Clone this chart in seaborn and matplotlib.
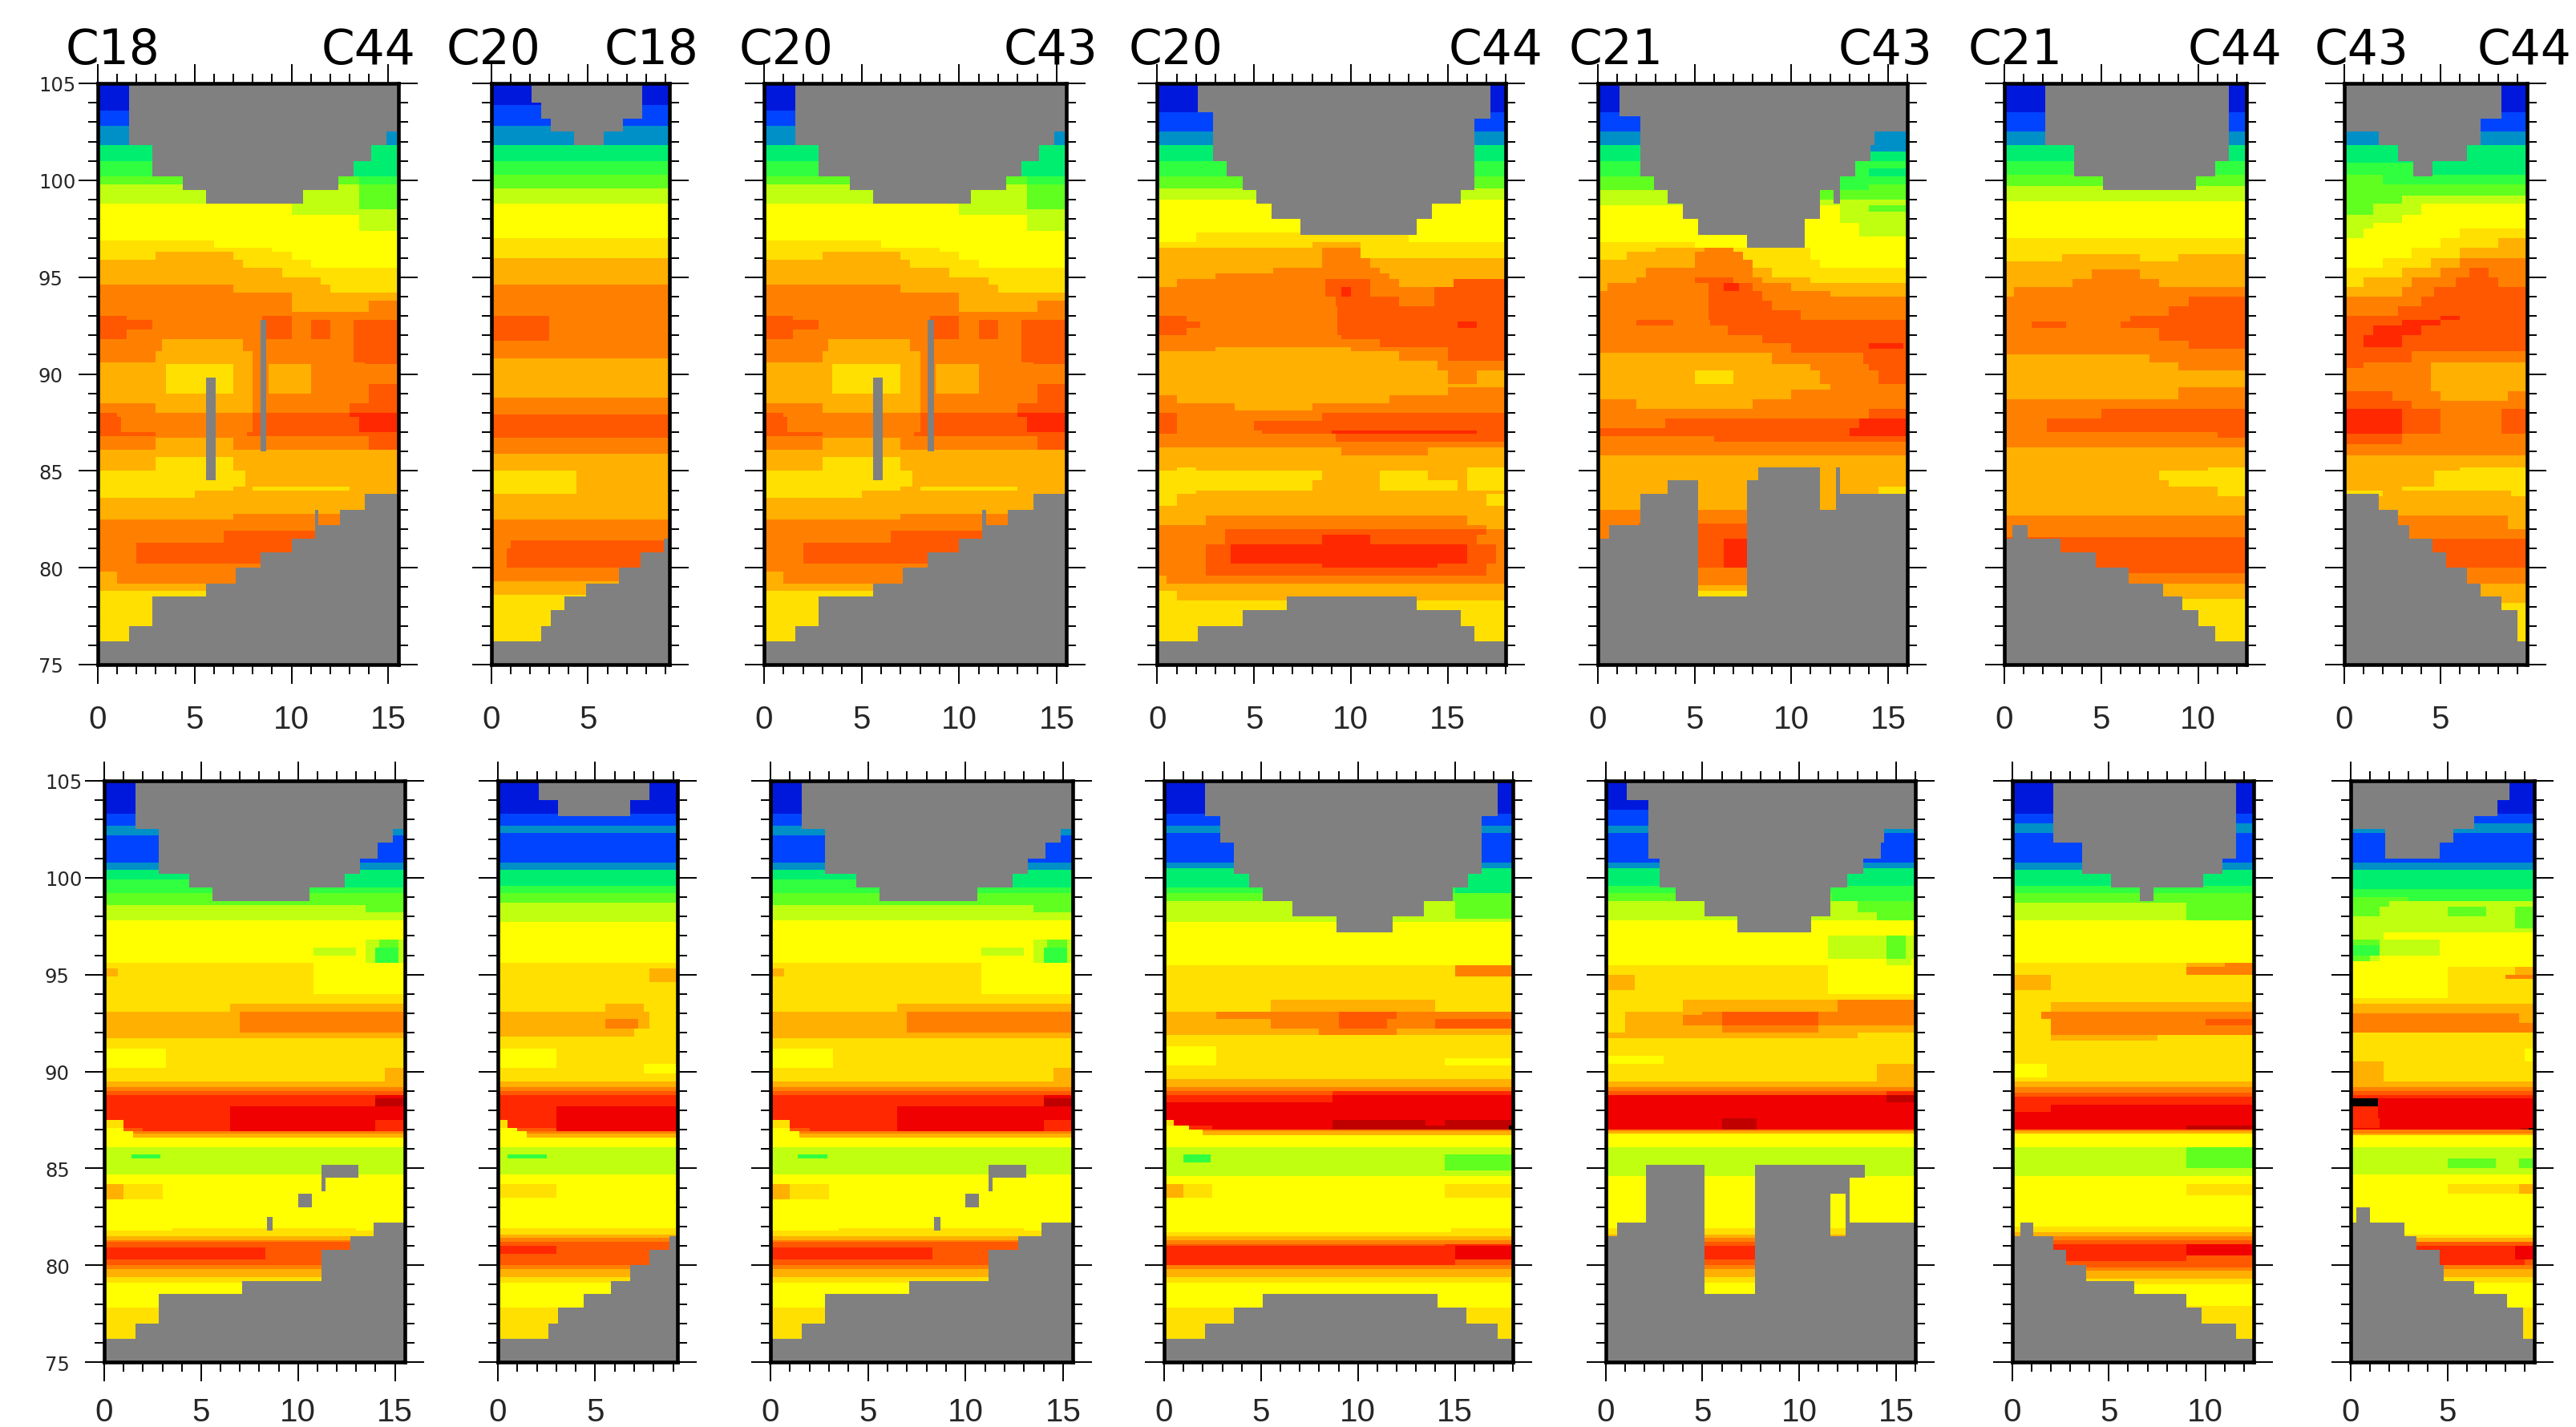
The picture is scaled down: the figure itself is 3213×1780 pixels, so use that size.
import numpy as np
import matplotlib
matplotlib.use("Agg")
import matplotlib.pyplot as plt
from matplotlib.colors import ListedColormap
import seaborn as sns

LEVELS = "abcdefghijklmnop"
COLORS = ["#0018dc", "#0044ff", "#0090c8", "#00ee70", "#30ff40", "#60ff20", "#c0ff10", "#ffff00",
          "#ffe000", "#ffb000", "#ff8000", "#ff5800", "#ff2800", "#f00000", "#c00000", "#000000"]
GRAY = "#808080"

WIDTHS = [15.53, 9.23, 15.53, 18.0, 16.0, 12.5, 9.46]
TITLES = [("C18", "C44"), ("C20", "C18"), ("C20", "C43"), ("C20", "C44"), ("C21", "C43"), ("C21", "C44"), ("C43", "C44")]

# ---- top row: level bands, "y-top level[x-end] ..."
T1_BANDS = ["105 a", "103.6 b", "102.75 c", "101.75 d", "101 e13.2 d", "100.25 f13.5 e", "99.75 g13.5 f",
    "98.75 h10 g13.5 f", "98.5 h10 g", "98.25 h13.5 g", "97.4 h", "96.9 i6 h", "96.5 i9 h", "96.3 i3 j7 i10 h",
    "95.9 j7.5 i11 h", "95.5 j9.5 i", "95 j11.5 i", "94.6 k7 j12 i", "94.25 k10 j", "93.75 k10 j14 k", "93.25 k",
    "93 l1.5 k8.5 l10 k", "92.75 l2.8 k8.5 l10 k11 l12 k13.2 l", "92.3 l1.5 k8.5 l10 k11 l12 k13.2 l",
    "91.75 k3.3 j7.5 k13.2 l", "91.25 k3 j8 k13.2 l", "90.6 j8 k13.8 l", "90.5 j3.5 i7 j8 k8.8 j11 k",
    "89.5 j3.5 i7 j8 k8.8 j11 k14 l", "89 j8 k14 l", "88.5 k3 j8 k13 l", "88 l1 k8 l13 m", "87.75 l1.2 k8 l13.5 m",
    "87 l3 k7.7 l", "86.8 k14 l", "86.7 k3 j7 k14 l", "86.1 j", "85.7 j3 i7 j", "85 i7.6 j", "84.25 i7 j8 i13 j",
    "84 i5 j", "83.6 j", "82.75 j7 k", "82.5 k", "81.9 k6.5 l", "81.3 k2 l", "80.75 k2 l", "80.25 k8 k", "79.75 j1 k",
    "79.25 j", "78.75 i"]
T1_TOP = [(1.6, 105), (2.85, 101.75), (4.4, 100.25), (5.6, 99.5), (10.6, 98.75), (12.4, 99.5), (13.15, 100.25),
          (14.1, 101), (14.9, 101.75), (15.53, 102.5)]
T1_BOT = [(1.6, 76.25), (2.85, 77), (5.6, 78.5), (7.1, 79.25), (8.4, 80), (10, 80.75), (11.2, 81.5), (12.5, 82.25),
          (13.8, 83), (15.53, 83.75)]
T1_HOLES = [(5.63, 6.13, 84.55, 89.75), (8.4, 8.68, 86, 92.8), (11.2, 11.42, 82.25, 83)]

T2_BANDS = ["105 a", "103.9 b", "102.75 c", "101.75 d", "101 e", "100.3 f", "99.6 g", "98.8 h", "97 i", "96 j", "94.6 k",
    "93 l3 k", "91.7 k", "90.8 j", "88.8 k", "87.9 l", "86.7 k", "85.9 j", "85 i4.4 j", "83.8 j", "82.5 k", "81.4 k1 l",
    "81 k0.8 l", "80 k", "79.3 j", "78.6 i"]
T2_TOP = [(2.1, 105), (2.6, 104), (3.1, 103.25), (4.3, 102.5), (5.8, 101.75), (6.8, 102.5), (7.85, 103.25), (9.23, 105)]
T2_BOT = [(2.6, 76.25), (3.1, 77), (3.85, 77.75), (4.9, 78.5), (6.6, 79.25), (7.7, 80), (8.9, 80.75), (9.23, 81.5)]
T2_HOLES = []

T4_BANDS = ["105 a", "103.5 b", "102.5 c", "101.75 d", "101 e", "100.25 f", "99.6 g", "99 h", "97.3 h2 i13 h", "96.8 i8 j10.5 i",
    "96.5 j8.5 k10.5 i", "96 j8.5 k11 j", "95.5 j6 k11.5 j", "95.2 j3 k12 j", "94.9 j1 k8.7 l11 k12.5 j15.3 l",
    "94.5 k8.7 l9.5 m10 l11 k14.3 l", "94 k9.2 l12.5 k14.3 l", "93.5 k9.3 l", "93 l1.5 k9.3 l", "92.7 l2.2 k9.3 l15.5 m16.5 l",
    "92.4 l1.5 k9.3 l", "92 k9.5 l", "91.8 k11.5 l", "91.4 k3 j10 k15 l", "91.2 j12.5 k15 l", "90.7 j14.5 k",
    "90.2 j15 k16.5 j", "89.5 j", "89.3 j15 k", "88.9 k1 j12 k", "88.5 k4 j8 k", "88.1 k", "88 l1 k8.5 l", "87.6 l1 k5 l",
    "87.1 l1 k5.4 l9 m16.5 l", "86.9 k9.2 l", "86.5 k", "86.2 j9.5 k14 j", "85.8 j", "85.2 j1 i2 j16 i",
    "85 i8.5 j11.5 i14 j16 i", "84.5 i8 j11.5 i15.5 j16 i", "84 i2 j", "83.75 i1 j17 i", "83.25 j", "82.7 j2.5 k16 j",
    "82.2 k17 j", "82 k3.5 l17 k", "81.7 k3.5 l8.5 m11 l16.5 k", "81.25 k2.5 l3.8 m16 l17.5 k", "80.25 k2.5 l8.5 m14.5 l17 k",
    "80 k2.5 l17 k", "79.6 j0.5 k", "79.25 j", "78.75 i1 j17 j", "78.3 i"]
T4_TOP = [(2.1, 105), (2.9, 103.5), (3.6, 101), (4.4, 100.25), (5.1, 99.5), (5.9, 98.75), (7.4, 98), (13.4, 97.25), (14.2, 98),
          (15.7, 98.75), (16.4, 99.5), (17.2, 103.25), (18, 105)]
T4_BOT = [(2.1, 76.25), (4.4, 77), (6.7, 77.75), (13.4, 78.5), (15.7, 77.75), (16.4, 77), (18, 76.25)]
T4_HOLES = []

T5_BANDS = ["105 a", "103.5 b", "102.5 c", "101.75 d14 c", "101.5 d", "101 e", "100.6 e14 d", "100.25 f12 e", "99.8 f12 e14 f",
    "99.5 g11 f", "99 g", "98.7 h12.5 g14 f", "98.4 h12.5 g", "97.75 h13.5 g", "97.1 h", "96.8 i5 h", "96.55 i3 j5.5 k7 i11 h",
    "96.3 i1.5 j5 k7.5 i11 h", "95.9 j5 k8 i11.5 h", "95.5 j2.5 k8 j9 i", "95 j2 k5 l7 k8.5 j11 i", "94.7 j0.5 k5.7 l6.5 m7.3 l8 k10 j",
    "94.3 k5.7 l8.5 k12 j", "94 k5.7 l8.5 k", "93.8 k5.7 l9 k", "93.3 k5.7 l10.5 k", "92.8 k2 l3.9 k5.8 l", "92.5 k6.7 l", "92 k8.5 l",
    "91.6 k10 l14 m15.8 l", "91.3 k10 l", "91.1 j9 k13.7 l", "90.5 j11 k14 l", "90.2 j5 i7 j11.5 k14.5 l", "89.5 j12 k", "89.2 j10 k",
    "88.7 k2 j8 k", "88.2 k14 l", "87.7 k3.5 l13.5 m", "87.2 l13 m", "86.8 k6 l13 l", "86.5 k", "85.8 j", "84.2 j14.5 i", "83.75 j",
    "83 k", "82.3 k2.1 l", "81.5 l6.5 m", "80 k", "79.1 j", "78.8 i"]
T5_TOP = [(1.1, 105), (2.15, 103.3), (2.9, 100.25), (3.6, 99.5), (4.4, 98.75), (5.2, 98), (7.7, 97.25), (10.7, 96.5), (11.5, 98),
          (12.25, 99.5), (12.5, 98.75), (13.3, 100.25), (14.1, 101), (14.3, 101.75), (16, 102.5)]
T5_BOT = [(0.6, 81.5), (2.15, 82.25), (3.6, 83.75), (5.15, 84.5), (7.7, 78.5), (8.3, 84.5), (11.5, 85.25), (12.3, 83), (12.5, 85.25),
          (16, 83.75)]
T5_HOLES = []

T6_BANDS = ["105 a", "103.5 b", "102.5 c", "101.75 d", "101 e", "100.3 f", "99.7 g", "98.9 h", "97 i", "96.2 i3 j7 i9 j", "95.8 j",
    "95.4 j4.5 k7 j", "94.9 j3.5 k8 j", "94.5 j0.5 k", "94 k9.5 l", "93.5 k8.5 l", "93 k6.5 l", "92.7 k1.4 l3.2 k6 l", "92.4 k8 l",
    "91.7 k9.5 l", "91.3 k", "91 j7.5 k", "90.6 j9 k", "90.2 j", "89.3 j9 k", "88.7 k", "88.2 k5 l", "87.7 k2.2 l", "87 k11 l",
    "86.7 k", "86.2 j", "85.2 j10.5 i", "85 j8 i", "84.5 j8.5 i", "84.2 j11 i", "83.7 j", "82.7 k", "81.6 l", "79.7 k", "79.25 j",
    "78.4 j9 i", "78.2 i"]
T6_TOP = [(2.1, 105), (3.6, 101.75), (5.1, 100.25), (9.9, 99.5), (10.9, 100.25), (11.6, 101), (12.5, 105)]
T6_BOT = [(0.4, 81.5), (1.15, 82.25), (2.9, 81.5), (4.7, 80.75), (6.4, 80), (8.2, 79.25), (9.2, 78.5), (9.95, 77.75), (10.9, 77),
          (12.5, 76.25)]
T6_HOLES = []

T7_BANDS = ["105 a", "103.5 b", "102.5 c", "101.75 d", "100.9 e4 d", "100.3 f2 e", "99.75 f", "99.25 f3 g", "98.75 f1.5 g4 h",
    "98.25 g3 h", "97.75 g1.5 h", "97.5 g1 h6 i", "97 h5 i8 j", "96.5 h3.5 i6 j", "96 h2 i4.5 j6 k", "95.5 i3 j5 k6.5 l7.5 k",
    "95 i1 j3.5 k5.8 l8 k", "94.5 j3 k4.7 l", "94 k4 l", "93.5 k2.8 l", "93 l5 m6 l", "92.75 l3 m5 l", "92.5 l1.5 m4 l", "92 l1 m3 l",
    "91.4 l", "91.2 l3.5 k", "90.6 l1 k4.5 j", "90.3 k4.5 j", "89.1 l2.5 k5 j8.5 k", "88.6 l3.5 k", "88.2 m3 l5 k8.2 l",
    "86.9 l3 k", "86.4 k", "85.8 j", "85.2 j6 i", "85 j4.7 i", "84.25 j3 i", "84 i2 j8.7 i", "83.7 j", "82.7 k8.5 j", "82 k", "81.5 l",
    "80 k", "79.25 j", "78.25 i"]
T7_TOP = [(1.85, 102.5), (2.85, 101.75), (3.65, 101), (4.6, 100.25), (6.4, 101), (7.1, 101.75), (8.2, 103.25), (9.46, 105)]
T7_BOT = [(1.85, 83.75), (2.85, 83), (3.4, 82.25), (4.6, 81.5), (5.3, 80.75), (6.4, 80), (7.1, 79.25), (8.2, 78.5), (8.95, 77.75),
          (9.46, 76.25)]
T7_HOLES = []

# ---- bottom row
B1_BANDS = ["105 a", "103.3 b", "102.7 c", "102.25 b", "100.75 c", "100.4 d", "99.9 e12 d", "99.5 e", "99.2 f", "98.6 g13.5 f", "98.2 g",
    "97.75 h", "96.8 h13.5 g14.2 f15.2 g", "96.4 h10.8 g13 h13.5 g14 e15.2 g", "96 h13.5 g14 e15.2 g", "95.6 i10.8 h", "95.3 j0.7 i10.8 h",
    "94.9 i10.8 h", "94 i", "93.5 i6.5 j", "93.1 j7 k", "92 j", "91.7 i", "91.25 h3.2 i", "90.25 i14.5 j", "89.5 j", "89.2 k", "89 l",
    "88.8 m14 n", "88.6 m14 o", "88.2 m6.5 n", "87.5 i1 m6.5 n14 m", "87.1 h1 l2 m6.5 n14 m", "86.9 h1.5 k", "86.8 h1.5 j", "86.6 h", "86.1 g",
    "85.7 g1.4 e2.9 g", "85.5 g", "84.7 h", "84.2 j1 i3 h", "83.4 h", "81.9 h3.5 i13 h", "81.75 i", "81.5 j", "81.35 k", "81.2 l",
    "80.9 m8.3 l", "80.3 l", "80.05 k", "79.85 j", "79.4 i", "79.1 h", "77.8 i"]
B1_TOP = [(1.65, 105), (2.85, 102.5), (4.4, 100.25), (5.6, 99.5), (10.6, 98.75), (12.4, 99.5), (13.15, 100.25), (14.1, 101), (14.9, 101.75),
          (15.53, 102.5)]
B1_BOT = [(1.65, 76.25), (2.85, 77), (7.1, 78.5), (11.2, 79.25), (12.7, 80.75), (13.9, 81.5), (15.53, 82.25)]
B1_HOLES = [(11.2, 13.1, 84.5, 85.25), (11.2, 11.45, 83.75, 84.5), (10, 10.7, 83, 83.7), (8.45, 8.7, 81.75, 82.5)]

B2_BANDS = ["105 a", "103.3 b", "102.7 c", "102.3 b", "100.8 c", "100.4 d", "99.6 e", "99.2 f", "98.7 g", "97.7 h", "95.6 i", "95.3 i7.8 j",
    "94.6 i", "93.5 i5.5 j7.5 i", "93.1 j7.8 i", "92.7 j5.5 k7.2 j7.8 i", "92.2 j7 i", "91.8 i", "91.25 h3 i", "90.4 h3 i7.5 h", "90.25 i7.5 h",
    "89.9 i", "89.5 j", "89.2 k", "89 l", "88.8 m", "88.2 m3 n", "87.55 i0.5 m3 n", "87.1 h1 l3 n", "86.9 h1.5 k", "86.8 h1.5 j", "86.6 h", "86.1 g",
    "85.7 g0.5 e2.5 g", "85.5 g", "84.7 h", "84.2 i3 h", "83.5 h", "81.9 i", "81.6 j", "81.4 k", "81.2 l", "81 m3 l", "80.6 l", "80 k", "79.85 j",
    "79.4 i", "79.1 h", "77.8 i"]
B2_TOP = [(2.1, 105), (3.1, 104), (6.85, 103.25), (7.85, 104), (9.23, 105)]
B2_BOT = [(2.6, 76.25), (3.1, 77), (4.35, 77.75), (5.85, 78.5), (6.85, 79.25), (7.85, 80), (8.85, 80.75), (9.23, 81.5)]
B2_HOLES = []

B4_BANDS = ["105 a", "103.3 b", "102.7 c", "102.3 b", "100.8 c", "100.45 d", "99.5 e15 d", "99.2 f", "98.75 g15 f", "97.9 g", "97.7 h", "95.5 i15 k",
    "94.9 i", "93.7 i5.5 j14 i", "93.1 j2.7 k9 l12 k", "92.7 j5.5 k9 l11.5 k14 l", "92.2 j8 k12 j", "91.9 i", "91.3 h2.7 i", "90.7 h2.7 i14.5 h",
    "90.3 i", "89.6 j", "89.25 k", "89 l8.7 m", "88.8 m8.7 n", "88.4 n", "87.55 i0.5 n8.7 o13.5 n14.5 o", "87.25 h1.3 m2.5 n8.7 o17.8 p", "87 h2 k",
    "86.9 h2 j", "86.7 h", "86.1 g", "85.7 g1 e2.4 g14.5 f", "85.3 g14.5 f", "84.9 g", "84.6 h", "84.2 j1 i2.5 h14.5 i", "83.5 h", "81.9 h14.8 i",
    "81.7 i", "81.5 j", "81.3 k", "81.1 l14.5 m", "81 m15 n", "80.3 m15 l", "80 k", "79.8 j", "79.4 i", "79.1 h", "77.8 i"]
B4_TOP = [(2.1, 105), (2.9, 103.25), (3.6, 101.75), (4.4, 100.25), (5.1, 99.5), (6.6, 98.75), (8.9, 98), (11.85, 97.25), (13.4, 98), (14.9, 98.75),
          (15.7, 99.5), (16.4, 100.25), (17.2, 103.25), (18, 105)]
B4_BOT = [(2.1, 76.25), (3.6, 77), (5.1, 77.75), (14.1, 78.5), (15.6, 77.75), (17.2, 77), (18, 76.25)]
B4_HOLES = []

B5_BANDS = ["105 a", "103.5 b", "102.7 c", "102.3 b", "100.8 c", "100.5 d", "99.6 e", "99.2 f11.7 e", "98.75 g13 f", "98.2 g14 f", "97.75 h",
    "97 h11.5 g14.5 f15.5 g", "95.8 h14.5 g15.8 h", "95.5 i11.5 h", "95 j1.5 i11.5 h", "94.2 i11.5 h", "94 i", "93.7 i4 j12 k", "93.1 i1 j5 k6 l11 k",
    "92.9 i1 j4 k6 l11 k", "92.4 i1 j6 k11 j", "92 j13 i", "91.7 i", "90.8 h3 i", "90.4 i14 j", "89.5 j", "89.2 k", "89 l14.5 m", "88.8 n14.5 o",
    "88.4 n", "87.6 n6 o7.8 n", "87 k", "86.9 j", "86.8 h", "86.1 g", "84.6 h", "81.9 i", "81.6 j", "81.4 k", "81.2 l", "81 m", "80.3 l", "80 k",
    "79.8 j", "79.4 i", "79.1 h"]
B5_TOP = [(1.1, 105), (2.15, 104), (2.85, 101), (3.6, 99.5), (5.1, 98.75), (6.85, 98), (10.6, 97.25), (11.6, 98), (12.5, 99.5), (13.3, 100.25),
          (14.2, 101), (14.4, 101.75), (16, 102.5)]
B5_BOT = [(0.6, 81.5), (2.1, 82.25), (5.1, 85.25), (7.7, 78.5), (11.6, 85.25), (12.4, 81.5), (12.6, 85.25), (16, 82.25)]
B5_HOLES = [(11.6, 12.4, 83.7, 85.25), (12.6, 13.4, 84.5, 85.25)]

B6_BANDS = ["105 a", "103.35 b", "102.8 c", "102.3 b", "100.8 c", "100.4 d", "99.6 e", "99.2 f", "98.7 g9 f", "97.75 h", "95.6 i9 j11 k", "95.4 i9 k",
    "95 j2 i", "94.2 i", "93.6 i2 j", "93.1 i1.5 k", "92.7 i2 k10 l", "92.4 i2 k", "91.9 i2 j7.5 i", "91.6 i", "90.4 h1.8 i", "89.7 i", "89.5 j", "89.2 k",
    "88.9 l", "88.7 m", "88.3 m2 n", "87.9 n", "87.2 n9 o", "87 k", "86.9 j", "86.8 h", "86.1 g9 f", "85 g", "84.6 h", "84.2 h9 i", "83.6 h", "82 i",
    "81.7 j", "81.5 k", "81.3 l", "81.1 m9 n", "80.5 m9 l", "80.2 l", "79.9 k", "79.7 j", "79.3 i", "79 h", "77.9 i"]
B6_TOP = [(2.1, 105), (3.6, 101.75), (5.1, 100.25), (6.6, 99.5), (7.3, 98.75), (9.9, 99.5), (10.9, 100.25), (11.6, 101), (12.5, 105)]
B6_BOT = [(0.4, 81.5), (1.1, 82.25), (2.1, 81.5), (2.85, 80.75), (3.8, 80), (6.3, 79.25), (9.05, 78.5), (9.8, 77.75), (11.6, 77), (12.5, 76.25)]
B6_HOLES = []

B7_BANDS = ["105 a", "103.35 b", "102.8 c", "102.3 b", "100.8 c", "100.4 d", "99.4 e", "99 f3 e", "98.75 f2 g", "98.5 f1.5 g5 f7 g8.5 f", "98 g8.5 f", "97.4 g",
    "97.2 g1.7 h", "96.8 f1.5 g4.6 h", "96.5 e1.5 g4.6 h", "96 f1 g1.5 h", "95.7 h", "95.4 h5 i8.5 j", "95 h5 i8 k", "94.8 h5 i", "93.8 i", "93.5 j", "93 k8.7 j",
    "92.5 k", "92 i", "91.2 i9 h", "90.5 j1.7 i", "89.5 j", "89.2 k", "89 l", "88.8 m", "88.6 p1.4 n", "88.2 m1.4 n", "87.6 m1.5 n", "87.1 n8.8 o9.2 p",
    "86.95 k", "86.85 j", "86.7 h", "86.1 g", "85.5 g5 f7.5 g8.7 f", "85 g", "84.65 h", "84.2 h5 i8.7 j", "83.7 h", "81.6 i", "81.4 j", "81.2 l", "81 m8.5 n",
    "80.3 m9 l", "80 k", "79.85 j", "79.4 i", "79.1 h", "77.8 i"]
B7_TOP = [(1.85, 102.5), (4.6, 101), (5.3, 101.75), (6.4, 102.5), (7.6, 103.25), (8.2, 104), (9.46, 105)]
B7_BOT = [(0.3, 82.25), (1.05, 83), (2.85, 82.25), (3.4, 81.5), (4.6, 80.75), (4.85, 80), (6.35, 79.25), (8.1, 78.5), (8.9, 77.75), (9.46, 76.25)]
B7_HOLES = []

TOP_ROW = [(T1_BANDS, T1_TOP, T1_BOT, T1_HOLES), (T2_BANDS, T2_TOP, T2_BOT, T2_HOLES), (T1_BANDS, T1_TOP, T1_BOT, T1_HOLES),
           (T4_BANDS, T4_TOP, T4_BOT, T4_HOLES), (T5_BANDS, T5_TOP, T5_BOT, T5_HOLES), (T6_BANDS, T6_TOP, T6_BOT, T6_HOLES),
           (T7_BANDS, T7_TOP, T7_BOT, T7_HOLES)]
BOT_ROW = [(B1_BANDS, B1_TOP, B1_BOT, B1_HOLES), (B2_BANDS, B2_TOP, B2_BOT, B2_HOLES), (B1_BANDS, B1_TOP, B1_BOT, B1_HOLES),
           (B4_BANDS, B4_TOP, B4_BOT, B4_HOLES), (B5_BANDS, B5_TOP, B5_BOT, B5_HOLES), (B6_BANDS, B6_TOP, B6_BOT, B6_HOLES),
           (B7_BANDS, B7_TOP, B7_BOT, B7_HOLES)]

# layout (pixels)
W, H = 3213, 1781
AX_LEFT_T = [122, 612.5, 953, 1443.4, 1993, 2500, 2923.6]
AX_RIGHT_T = [496.5, 835, 1330, 1878, 2379, 2802, 3151.7]
AX_LEFT_B = [130, 621, 961, 1452, 2002.7, 2510, 2932]
AX_RIGHT_B = [504.6, 844.5, 1338, 1887, 2389, 2811, 3161]
TITLE_L = [82, 557, 922, 1408, 1957, 2455, 2887]
TITLE_R = [518, 871, 1369, 1924, 2410, 2846, 3207]
RES = 10  # cells per data unit


def build(width, bands, top, bot, holes):
    cols = int(round(width * RES))
    rows = 30 * RES
    grid = np.full((rows, cols), np.nan)
    for n, line in enumerate(bands):
        parts = line.split()
        y0 = float(parts[0])
        y1 = float(bands[n + 1].split()[0]) if n + 1 < len(bands) else 75.0
        i0, i1 = int(round((105 - y0) * RES)), int(round((105 - y1) * RES))
        start = 0
        for tok in parts[1:]:
            lev = LEVELS.index(tok[0])
            end = int(round(float(tok[1:]) * RES)) if len(tok) > 1 else cols
            grid[i0:i1, start:end] = lev
            start = max(start, end)
    x0 = 0
    for xe, y in top:
        xi = int(round(xe * RES))
        grid[: int(round((105 - y) * RES)), x0:xi] = np.nan
        x0 = xi
    x0 = 0
    for xe, y in bot:
        xi = int(round(xe * RES))
        grid[int(round((105 - y) * RES)):, x0:xi] = np.nan
        x0 = xi
    for xa, xb, ya, yb in holes:
        grid[int(round((105 - yb) * RES)):int(round((105 - ya) * RES)), int(round(xa * RES)):int(round(xb * RES))] = np.nan
    return grid


sns.set_style("white")
plt.rcParams["font.family"] = ["DejaVu Sans"]
plt.rcParams["axes.facecolor"] = GRAY
fig = plt.figure(figsize=(W / 100, H / 100), dpi=100, facecolor="white")
cmap = ListedColormap(COLORS)


def panel(left, right, top_px, bot_px, width, spec, first, xpad):
    ax = fig.add_axes([left / W, 1 - bot_px / H, (right - left) / W, (bot_px - top_px) / H])
    ax.set_facecolor(GRAY)
    grid = build(width, *spec)
    sns.heatmap(grid, ax=ax, cmap=cmap, vmin=-0.5, vmax=15.5, cbar=False, mask=np.isnan(grid),
                xticklabels=False, yticklabels=False)
    ax.set_xlim(0, grid.shape[1])
    ax.set_ylim(grid.shape[0], 0)
    xmaj = np.arange(0, width + 0.01, 5)
    xmin = np.arange(0, width + 0.01, 1)
    ymaj = np.arange(75, 106, 5)
    ymin = np.arange(75, 106, 1)
    ax.set_xticks(xmaj * RES)
    ax.set_xticklabels([f"{v:.0f}" for v in xmaj], fontfamily="Liberation Sans", fontsize=29)
    ax.set_xticks(xmin * RES, minor=True)
    ax.set_yticks((105 - ymaj) * RES)
    ax.set_yticks((105 - ymin) * RES, minor=True)
    ax.set_yticklabels([f"{v:.0f}" for v in ymaj] if first else [], fontsize=17.5, ha="left")
    ax.tick_params(which="major", direction="out", length=17.3, width=1.4, top=True, bottom=True, left=True, right=True,
                   labelleft=first, labelright=False, labeltop=False, labelbottom=True, color="black")
    ax.tick_params(which="minor", direction="out", length=8.6, width=1.4, top=True, bottom=True, left=True, right=True, color="black")
    ax.tick_params(axis="x", which="major", pad=xpad)
    ax.tick_params(axis="y", which="major", pad=36)
    for s in ax.spines.values():
        s.set_visible(True)
        s.set_linewidth(3.3)
        s.set_color("black")
    return ax


for i in range(7):
    panel(AX_LEFT_T[i], AX_RIGHT_T[i], 105, 830, WIDTHS[i], TOP_ROW[i], i == 0, 18)
    panel(AX_LEFT_B[i], AX_RIGHT_B[i], 975, 1700, WIDTHS[i], BOT_ROW[i], i == 0, 14)
    fig.text(TITLE_L[i] / W, 1 - 80 / H, TITLES[i][0], fontsize=43, ha="left", va="baseline", color="black")
    fig.text(TITLE_R[i] / W, 1 - 80 / H, TITLES[i][1], fontsize=43, ha="right", va="baseline", color="black")

fig.savefig("out.png", dpi=100, facecolor="white")
